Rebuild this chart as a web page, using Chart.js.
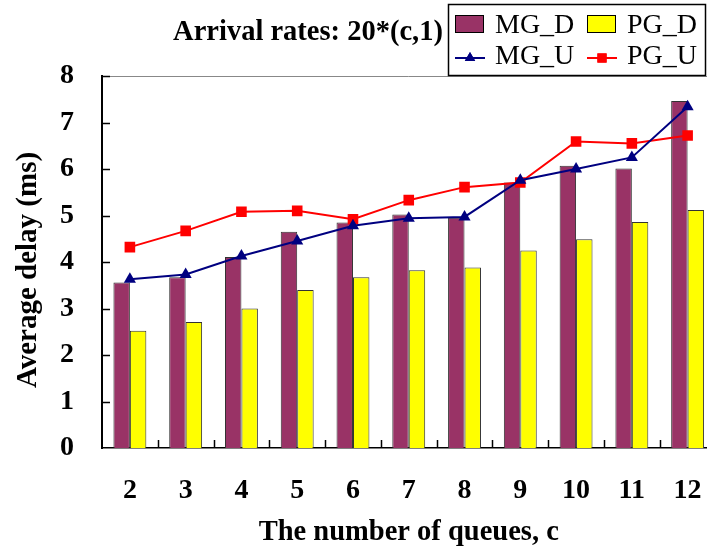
<!DOCTYPE html>
<html>
<head>
<meta charset="utf-8">
<script src="https://cdn.jsdelivr.net/npm/chart.js@4.4.0/dist/chart.umd.min.js"></script>
<style>
  html, body { margin: 0; padding: 0; background: #fff; overflow: hidden; }
  canvas { display: block; }
</style>
</head>
<body>
<canvas id="delayChart" width="723" height="552"></canvas>
<script>
// number of queues on the x axis
const queues = ["2", "3", "4", "5", "6", "7", "8", "9", "10", "11", "12"];

// average delay in ms
const mgD = [3.56, 3.67, 4.11, 4.65, 4.85, 5.02, 4.95, 5.71, 6.07, 6.01, 7.46];
const pgD = [2.52, 2.71, 3.00, 3.40, 3.67, 3.82, 3.88, 4.25, 4.49, 4.86, 5.12];
const mgU = [3.63, 3.73, 4.13, 4.45, 4.78, 4.94, 4.97, 5.76, 6.00, 6.25, 7.34];
const pgU = [4.32, 4.67, 5.08, 5.10, 4.92, 5.33, 5.61, 5.71, 6.59, 6.55, 6.72];

const yTicks = [0, 1, 2, 3, 4, 5, 6, 7, 8];

const chartTitle = "Arrival rates: 20*(c,1)";
const yTitle = "Average delay (ms)";
const serif = "'Liberation Serif', 'Times New Roman', serif";

// inward tick marks, plot frame, titles and the boxed legend
const decorations = {
  id: "decorations",
  beforeDatasetsDraw(chart) {
    const { ctx, chartArea } = chart;
    ctx.save();
    ctx.strokeStyle = "#888";
    ctx.lineWidth = 1;
    ctx.beginPath();
    ctx.moveTo(chartArea.left, chartArea.top + 0.5);
    ctx.lineTo(chartArea.right, chartArea.top + 0.5);
    ctx.stroke();
    ctx.restore();
  },
  afterDatasetsDraw(chart) {
    const { ctx, chartArea } = chart;
    const x = chart.scales.x;
    const y = chart.scales.y;
    ctx.save();
    ctx.strokeStyle = "#000";
    ctx.lineWidth = 1.5;
    ctx.beginPath();
    yTicks.forEach((v) => {
      if (v === 0) return;
      const py = Math.round(y.getPixelForValue(v)) + 0.5;
      ctx.moveTo(chartArea.left, py);
      ctx.lineTo(chartArea.left + 8, py);
    });
    for (let i = 1; i < queues.length; i++) {
      const px = Math.round((x.getPixelForValue(i - 1) + x.getPixelForValue(i)) / 2) + 0.5;
      ctx.moveTo(px, chartArea.bottom);
      ctx.lineTo(px, chartArea.bottom - 8);
    }
    ctx.stroke();
    ctx.restore();
  },
  afterDraw(chart) {
    const { ctx } = chart;
    const ds = chart.data.datasets;
    ctx.save();

    ctx.fillStyle = "#000";
    ctx.font = "bold 28.5px " + serif;
    ctx.textAlign = "center";
    ctx.textBaseline = "alphabetic";
    ctx.fillText(chartTitle, 308, 40);

    // rotated y axis title
    ctx.save();
    ctx.translate(36, 270);
    ctx.rotate(-Math.PI / 2);
    ctx.font = "bold 29px " + serif;
    ctx.fillText(yTitle, 0, 0);
    ctx.restore();

    // legend box
    ctx.fillStyle = "#fff";
    ctx.fillRect(448, 4, 258, 71);
    ctx.strokeStyle = "#000";
    ctx.lineWidth = 1.5;
    ctx.strokeRect(448.5, 4.5, 257, 71);

    ctx.font = "28px " + serif;
    ctx.textAlign = "left";
    const cols = [455, 587];

    // bar entries
    [0, 1].forEach((k) => {
      ctx.fillStyle = ds[k].backgroundColor;
      ctx.fillRect(cols[k], 15, 29, 18);
      ctx.strokeStyle = "#000";
      ctx.lineWidth = 1;
      ctx.strokeRect(cols[k] + 0.5, 15.5, 28, 17);
      ctx.fillStyle = "#000";
      ctx.fillText(ds[k].label, cols[k] + 40, 33);
    });

    // line entries
    [2, 3].forEach((k, j) => {
      const lx = cols[j];
      const ly = 58;
      ctx.strokeStyle = ds[k].borderColor;
      ctx.lineWidth = 2;
      ctx.beginPath();
      ctx.moveTo(lx, ly);
      ctx.lineTo(lx + 30, ly);
      ctx.stroke();
      ctx.fillStyle = ds[k].borderColor;
      Chart.helpers.drawPoint(ctx, {
        pointStyle: ds[k].pointStyle,
        radius: ds[k].pointRadius - 1,
        borderWidth: 0,
        rotation: 0
      }, lx + 15, ly);
      ctx.fill();
      ctx.fillStyle = "#000";
      ctx.fillText(ds[k].label, lx + 40, 64);
    });

    ctx.restore();
  }
};

new Chart(document.getElementById("delayChart"), {
  type: "bar",
  data: {
    labels: queues,
    datasets: [
      {
        label: "MG_D",
        data: mgD,
        backgroundColor: "#993366",
        borderColor: "#333",
        borderWidth: 1,
        categoryPercentage: 0.59,
        barPercentage: 1,
        order: 1
      },
      {
        label: "PG_D",
        data: pgD,
        backgroundColor: "#ffff00",
        borderColor: "#333",
        borderWidth: 1,
        categoryPercentage: 0.59,
        barPercentage: 1,
        order: 1
      },
      {
        type: "line",
        label: "MG_U",
        data: mgU,
        borderColor: "#000080",
        backgroundColor: "#000080",
        borderWidth: 2,
        tension: 0,
        pointStyle: "triangle",
        pointRadius: 7,
        pointBorderWidth: 0,
        order: 0
      },
      {
        type: "line",
        label: "PG_U",
        data: pgU,
        borderColor: "#ff0000",
        backgroundColor: "#ff0000",
        borderWidth: 2,
        tension: 0,
        pointStyle: "rect",
        pointRadius: 7.5,
        pointBorderWidth: 0,
        order: 0
      }
    ]
  },
  options: {
    responsive: false,
    animation: false,
    layout: { padding: { top: 76, right: 0, left: 0, bottom: 0 } },
    plugins: {
      legend: { display: false },
      title: { display: false },
      tooltip: { enabled: false }
    },
    scales: {
      x: {
        offset: true,
        grid: { display: false },
        border: { display: true, color: "#000", width: 1.5 },
        ticks: {
          color: "#000",
          padding: 18,
          maxRotation: 0,
          font: { family: serif, size: 28, weight: "bold" }
        },
        title: {
          display: true,
          text: "The number of queues, c",
          color: "#000",
          padding: { top: 0, bottom: 2 },
          font: { family: serif, size: 28.5, weight: "bold" }
        },
        afterFit(scale) { scale.height = 104; }
      },
      y: {
        min: 0,
        max: 8,
        afterBuildTicks(scale) { scale.ticks = yTicks.map((v) => ({ value: v })); },
        grid: { display: false },
        border: { display: true, color: "#000", width: 2 },
        ticks: {
          color: "#000",
          padding: 20,
          font: { family: serif, size: 28, weight: "bold" }
        },
        afterFit(scale) { scale.width = 102; }
      }
    }
  },
  plugins: [decorations]
});
</script>
</body>
</html>
